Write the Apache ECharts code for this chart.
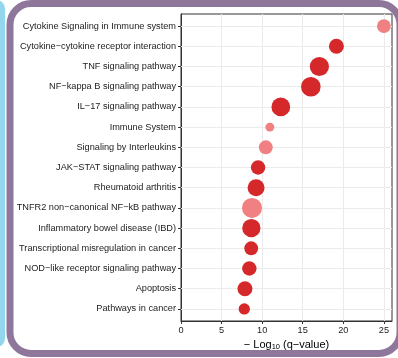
<!DOCTYPE html>
<html>
<head>
<meta charset="utf-8">
<script src="https://cdn.jsdelivr.net/npm/echarts@6/dist/echarts.min.js"></script>
<style>
  html, body { margin: 0; padding: 0; background: #ffffff; }
  #chart { width: 398px; height: 358px; }
</style>
</head>
<body>
<div id="chart"></div>
<script>
// Enriched pathways, top to bottom
const pathways = [
  'Cytokine Signaling in Immune system',
  'Cytokine\u2212cytokine receptor interaction',
  'TNF signaling pathway',
  'NF\u2212kappa B signaling pathway',
  'IL\u221217 signaling pathway',
  'Immune System',
  'Signaling by Interleukins',
  'JAK\u2212STAT signaling pathway',
  'Rheumatoid arthritis',
  'TNFR2 non\u2212canonical NF\u2212kB pathway',
  'Inflammatory bowel disease (IBD)',
  'Transcriptional misregulation in cancer',
  'NOD\u2212like receptor signaling pathway',
  'Apoptosis',
  'Pathways in cancer'
];
// -log10(q-value)
const negLog10Q = [25.0, 19.15, 17.05, 16.0, 12.3, 10.95, 10.45, 9.5, 9.25, 8.75, 8.67, 8.65, 8.42, 7.88, 7.8];
// genes hit per pathway (bubble size)
const geneCounts = [12, 14, 23, 24, 22, 5, 12, 13, 18, 25, 21, 12, 13, 14, 8];
// annotation database of each pathway (bubble colour)
const sources = ['Reactome', 'KEGG', 'KEGG', 'KEGG', 'KEGG', 'Reactome', 'Reactome', 'KEGG',
                 'KEGG', 'Reactome', 'KEGG', 'KEGG', 'KEGG', 'KEGG', 'KEGG'];
// x axis labelled ticks
const xTickValues = [0, 5, 10, 15, 20, 25];

const sourceColors = { KEGG: '#D5282B', Reactome: '#F08081' };
const rowPositions = pathways.map((_, i) => i + 1);

function seriesFor(src) {
  const data = [];
  pathways.forEach((p, i) => {
    if (sources[i] === src) data.push([negLog10Q[i], i + 1, geneCounts[i], p]);
  });
  return {
    name: src,
    type: 'scatter',
    data: data,
    symbolSize: v => 4 * Math.sqrt(v[2]),
    itemStyle: { color: sourceColors[src], opacity: 1 },
    z: 3
  };
}

const labelFont = 'Liberation Sans, Arial, Helvetica, sans-serif';
const axisInk = '#333333';

const chart = echarts.init(document.getElementById('chart'), null, { renderer: 'canvas' });
chart.setOption({
  animation: false,
  backgroundColor: '#ffffff',
  graphic: [
    {
      type: 'rect',
      shape: { x: -12, y: 0, width: 17, height: 347, r: 9 },
      style: { fill: '#93D7EF' },
      z: -5
    },
    {
      type: 'rect',
      shape: { x: 10, y: 3.5, width: 390, height: 350, r: 21 },
      style: { fill: 'none', stroke: '#8F779C', lineWidth: 7 },
      z: -5
    }
  ],
  grid: {
    left: 181, right: 6, top: 14, bottom: 37,
    show: true, borderColor: axisInk, borderWidth: 1, backgroundColor: 'transparent'
  },
  xAxis: {
    type: 'value',
    min: 0, max: 26, interval: 2.5,
    name: '{t|\u2212 Log}{s|10}{t| (q\u2212value)}',
    nameLocation: 'middle',
    nameGap: 15,
    nameTextStyle: {
      rich: {
        t: { fontFamily: labelFont, fontSize: 11, color: '#000', lineHeight: 13, verticalAlign: 'bottom' },
        s: { fontFamily: labelFont, fontSize: 7.5, color: '#000', lineHeight: 9, verticalAlign: 'bottom' }
      }
    },
    axisLine: { show: true, lineStyle: { color: axisInk, width: 1 } },
    axisTick: { show: true, length: 3, lineStyle: { color: axisInk }, customValues: xTickValues },
    axisLabel: {
      customValues: xTickValues,
      fontFamily: labelFont, fontSize: 9.2, color: '#222', margin: 5
    },
    splitLine: { show: true, lineStyle: { color: '#EBEBEB', width: 1 } }
  },
  yAxis: {
    type: 'value',
    inverse: true,
    min: 0.4, max: 15.6,
    axisLine: { show: true, lineStyle: { color: axisInk, width: 1 } },
    axisTick: { show: true, length: 3, lineStyle: { color: axisInk }, customValues: rowPositions },
    axisLabel: {
      customValues: rowPositions,
      formatter: v => pathways[Math.round(v) - 1] || '',
      fontFamily: labelFont, fontSize: 9.2, color: '#222', margin: 5
    },
    splitLine: { show: false }
  },
  series: [
    {
      // horizontal guide lines through each pathway row
      type: 'scatter',
      data: [],
      silent: true,
      z: 1,
      markLine: {
        silent: true,
        z: 1,
        symbol: ['none', 'none'],
        label: { show: false },
        animation: false,
        lineStyle: { color: '#EBEBEB', width: 1, type: 'solid' },
        emphasis: { disabled: true },
        data: rowPositions.map(v => ({ yAxis: v }))
      }
    },
    seriesFor('KEGG'),
    seriesFor('Reactome')
  ]
});
</script>
</body>
</html>
